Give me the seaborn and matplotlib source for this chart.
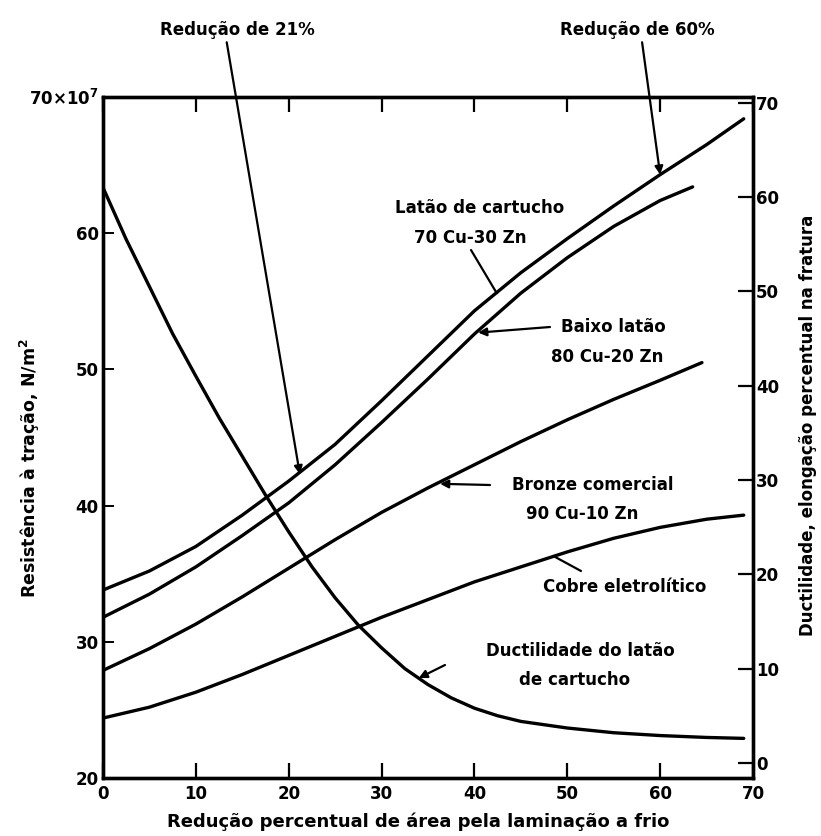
import matplotlib
matplotlib.use("Agg")
import matplotlib.pyplot as plt
import seaborn as sns
import pandas as pd

# ---------------- data ----------------
x_cartucho = [0, 5, 10, 15, 20, 25, 30, 35, 40, 45, 50, 55, 60, 65, 69]
y_cartucho = [33.8, 35.2, 37.0, 39.3, 41.8, 44.5, 47.7, 51.0, 54.3, 57.1, 59.6, 62.0, 64.3, 66.5, 68.4]

x_baixo = [0, 5, 10, 15, 20, 25, 30, 35, 40, 45, 50, 55, 60, 63.5]
y_baixo = [31.8, 33.5, 35.5, 37.8, 40.2, 43.0, 46.1, 49.3, 52.6, 55.6, 58.2, 60.5, 62.4, 63.4]

x_bronze = [0, 5, 10, 15, 20, 25, 30, 35, 40, 45, 50, 55, 60, 64.5]
y_bronze = [27.9, 29.5, 31.3, 33.3, 35.4, 37.5, 39.5, 41.3, 43.0, 44.7, 46.3, 47.8, 49.2, 50.5]

x_cobre = [0, 5, 10, 15, 20, 25, 30, 35, 40, 45, 50, 55, 60, 65, 69]
y_cobre = [24.4, 25.2, 26.3, 27.6, 29.0, 30.4, 31.8, 33.1, 34.4, 35.5, 36.6, 37.6, 38.4, 39.0, 39.3]

x_duct = [0, 2.5, 5, 7.5, 10, 12.5, 15, 17.5, 20, 22.5, 25, 27.5, 30, 32.5,
          35, 37.5, 40, 42.5, 45, 50, 55, 60, 65, 69]
y_duct = [61.0, 55.5, 50.5, 45.5, 41.0, 36.6, 32.5, 28.4, 24.5, 20.8, 17.5,
          14.6, 12.2, 10.0, 8.3, 6.9, 5.8, 5.0, 4.4, 3.7, 3.2, 2.9, 2.7, 2.6]

x_ticks = [0, 10, 20, 30, 40, 50, 60, 70]
x_ticklabels = ["0", "10", "20", "30", "40", "50", "60", "70"]
left_ticks = [20, 30, 40, 50, 60, 70]
left_ticklabels = ["20", "30", "40", "50", "60", "70\u00d710$^7$"]
right_ticks = [0, 10, 20, 30, 40, 50, 60, 70]
right_ticklabels = ["0", "10", "20", "30", "40", "50", "60", "70"]

# ---------------- figure ----------------
sns.set_style("ticks")
plt.rcParams["font.family"] = ["DejaVu Sans"]
plt.rcParams["font.weight"] = "bold"
plt.rcParams["mathtext.default"] = "bf"
for k in ("text.color", "axes.labelcolor", "xtick.color", "ytick.color",
          "axes.edgecolor"):
    plt.rcParams[k] = "black"

W, H = 821, 836
fig = plt.figure(figsize=(W / 100, H / 100), dpi=100)
ax = fig.add_axes([103 / W, 1 - 778 / H, (753 - 103) / W, (778 - 97) / H])
ax2 = ax.twinx()

lw = 2.4
df_strength = pd.concat([
    pd.DataFrame({"x": x_cartucho, "y": y_cartucho, "s": "cartucho"}),
    pd.DataFrame({"x": x_baixo, "y": y_baixo, "s": "baixo"}),
    pd.DataFrame({"x": x_bronze, "y": y_bronze, "s": "bronze"}),
    pd.DataFrame({"x": x_cobre, "y": y_cobre, "s": "cobre"}),
])
sns.lineplot(data=df_strength, x="x", y="y", units="s", estimator=None,
             color="black", lw=lw, ax=ax, legend=False, sort=True)
df_duct = pd.DataFrame({"x": x_duct, "y": y_duct})
sns.lineplot(data=df_duct, x="x", y="y", color="black", lw=lw, ax=ax2,
             legend=False)

ax.set_xlim(0, 70)
ax.set_ylim(20, 70)
ax2.set_ylim(-1.6, 70.6)

fs = 12
ax.set_xticks(x_ticks)
ax.set_xticklabels(x_ticklabels, fontsize=fs, fontweight="bold")
ax.set_yticks(left_ticks)
ax.set_yticklabels(left_ticklabels, fontsize=fs, fontweight="bold")
ax2.set_yticks(right_ticks)
ax2.set_yticklabels(right_ticklabels, fontsize=fs, fontweight="bold")

ax.tick_params(axis="x", direction="in", length=11, width=1.6, top=True,
               pad=5, colors="black")
ax.tick_params(axis="y", direction="in", length=8, width=1.4, pad=3,
               colors="black")
ax2.tick_params(axis="y", direction="in", length=11, width=1.6, pad=2,
                colors="black")

for a in (ax, ax2):
    for sp in a.spines.values():
        sp.set_linewidth(2.4)
        sp.set_color("black")

ax.set_xlabel("")
ax.set_ylabel("")
ax2.set_ylabel("")

def fp(px, py):
    return (px / W, 1 - py / H)

fig.text(*fp(418, 822), "Redução percentual de área pela laminação a frio",
         ha="center", va="center", fontsize=13, fontweight="bold")
fig.text(*fp(30, 468), "Resistência à tração, N/m$^2$", rotation=90,
         ha="center", va="center", fontsize=12.5, fontweight="bold")
fig.text(*fp(808, 425), "Ductilidade, elongação percentual na fratura",
         rotation=90, ha="center", va="center", fontsize=12, fontweight="bold")

tk = dict(fontsize=12, fontweight="bold", ha="center", va="center")
arrow = dict(arrowstyle="-|>", color="black", lw=1.6, mutation_scale=12,
             shrinkA=0, shrinkB=0)

# top annotations
ax.annotate("Redução de 21%", xy=(21.2, 42.3), xycoords="data",
            xytext=fp(237, 30), textcoords="figure fraction",
            arrowprops=dict(arrow, relpos=(0.43, 0.0)), annotation_clip=False, **tk)
ax.annotate("Redução de 60%", xy=(60, 64.3), xycoords="data",
            xytext=fp(637, 30), textcoords="figure fraction",
            arrowprops=dict(arrow, relpos=(0.53, 0.0)), annotation_clip=False, **tk)

# curve labels
fig.text(*fp(480, 208), "Latão de cartucho", **tk)
fig.text(*fp(470, 238), "70 Cu-30 Zn", **tk)
ax.annotate("", xy=(42.4, 55.6), xycoords="data",
            xytext=fp(471, 250), textcoords="figure fraction",
            arrowprops=dict(arrow, arrowstyle="-"))

fig.text(*fp(613, 327), "Baixo latão", **tk)
fig.text(*fp(607, 357), "80 Cu-20 Zn", **tk)
ax.annotate("", xy=(40.4, 52.7), xycoords="data",
            xytext=fp(550, 327), textcoords="figure fraction",
            arrowprops=arrow)

fig.text(*fp(593, 485), "Bronze comercial", **tk)
fig.text(*fp(582, 514), "90 Cu-10 Zn", **tk)
ax.annotate("", xy=(36.3, 41.6), xycoords="data",
            xytext=fp(490, 485), textcoords="figure fraction",
            arrowprops=arrow)

fig.text(*fp(625, 587), "Cobre eletrolítico", **tk)
ax.annotate("", xy=(48.5, 36.3), xycoords="data",
            xytext=fp(581, 571), textcoords="figure fraction",
            arrowprops=dict(arrow, arrowstyle="-"))

fig.text(*fp(580, 651), "Ductilidade do latão", **tk)
fig.text(*fp(575, 680), "de cartucho", **tk)
ax2.annotate("", xy=(34.0, 9.0), xycoords="data",
             xytext=fp(445, 665), textcoords="figure fraction",
             arrowprops=arrow)

fig.savefig("out.png", dpi=100)
